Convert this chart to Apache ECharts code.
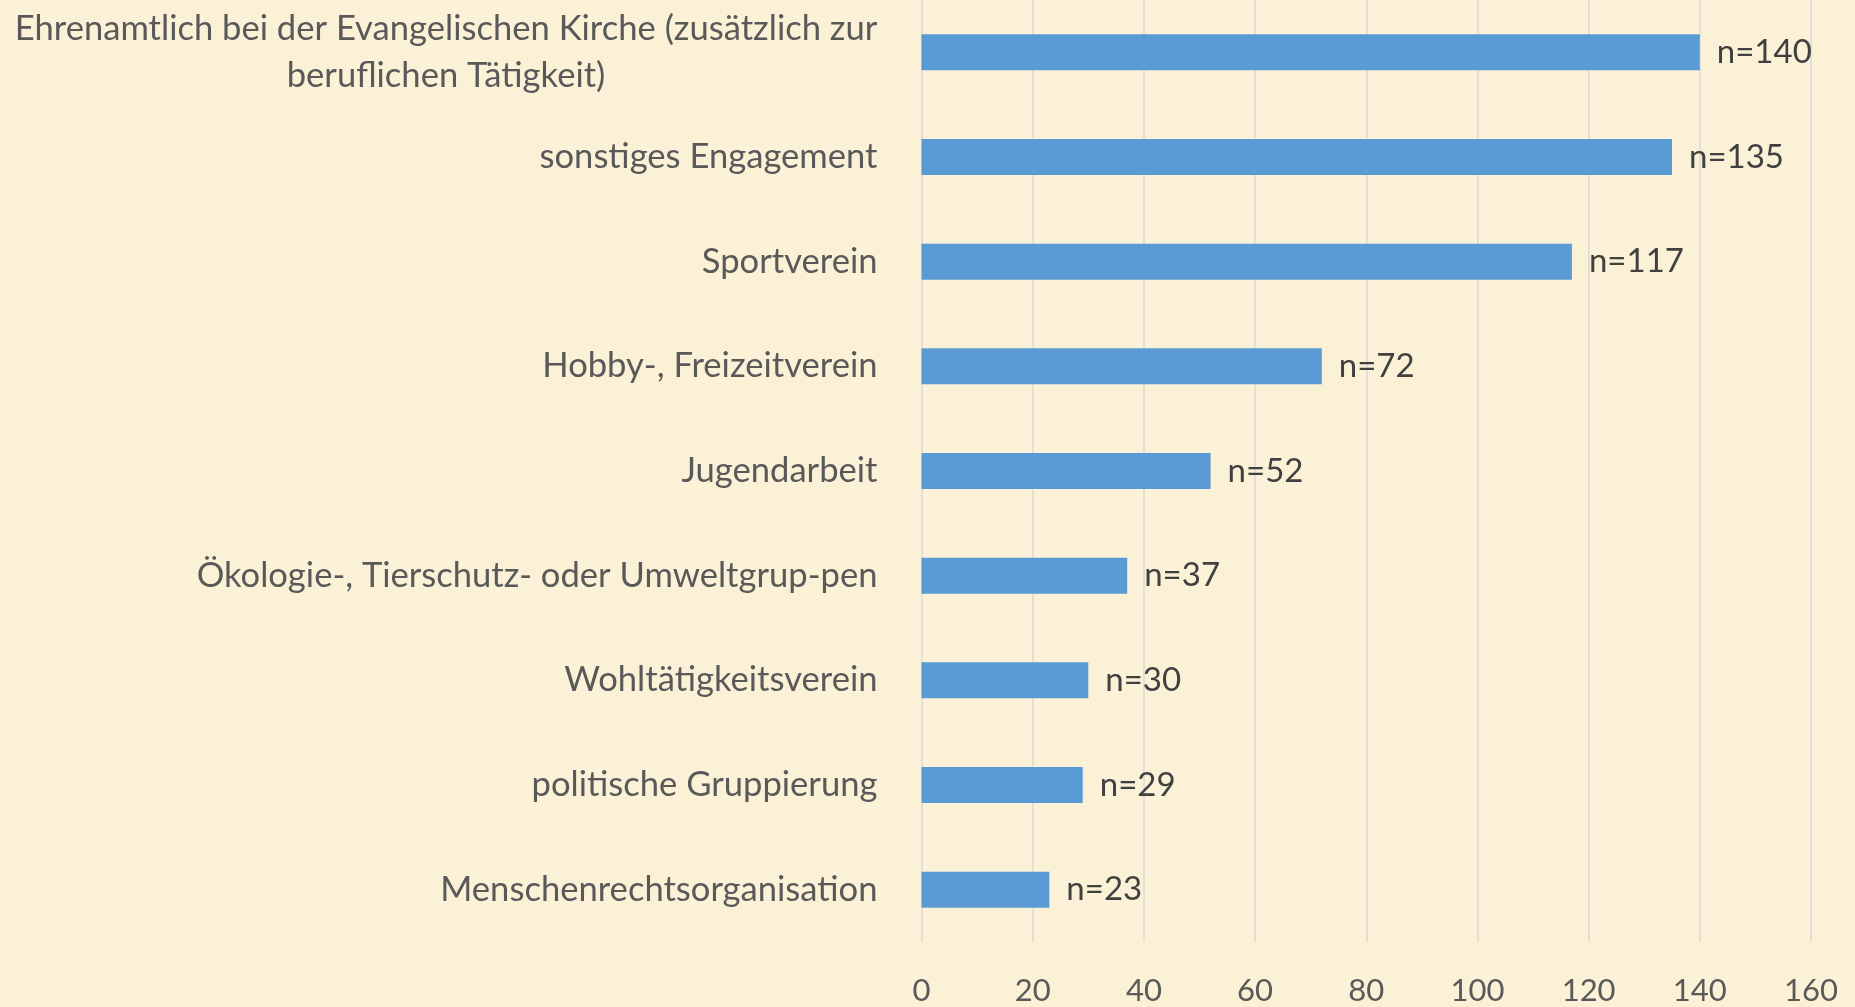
<!DOCTYPE html>
<html><head><meta charset="utf-8">
<script src="https://cdn.jsdelivr.net/npm/echarts@6/dist/echarts.min.js"></script>
<style>html,body{margin:0;padding:0;background:#FAF1D6;}#c{width:1855px;height:1007px;}</style>
</head><body><div id="c"></div>
<script>
const categories = [
  "Ehrenamtlich bei der Evangelischen Kirche (zusätzlich zur\nberuflichen Tätigkeit)",
  "sonstiges Engagement",
  "Sportverein",
  "Hobby-, Freizeitverein",
  "Jugendarbeit",
  "Ökologie-, Tierschutz- oder Umweltgrup-pen",
  "Wohltätigkeitsverein",
  "politische Gruppierung",
  "Menschenrechtsorganisation"
];
const values = [140, 135, 117, 72, 52, 37, 30, 29, 23];
const xTicks = [0, 20, 40, 60, 80, 100, 120, 140, 160];

const FONT = 'Lato';
const CAT_SIZE = 34.6;

function measure(text, size) {
  const ctx = document.createElement('canvas').getContext('2d');
  ctx.font = size + 'px ' + FONT;
  return ctx.measureText(text).width;
}
const multiWidth = Math.ceil(Math.max.apply(null,
  categories[0].split('\n').map(function (s) { return measure(s, CAT_SIZE); })));

const chart = echarts.init(document.getElementById('c'));
chart.setOption({
  backgroundColor: '#FAF1D6',
  animation: false,
  grid: { left: 921.5, right: 44, top: -2, bottom: 65, containLabel: false },
  xAxis: {
    type: 'value', min: xTicks[0], max: xTicks[xTicks.length - 1], interval: 20,
    axisLine: { show: false }, axisTick: { show: false },
    splitLine: { show: true, lineStyle: { color: '#D9D9D9', width: 1.5 } },
    axisLabel: { color: '#595959', fontFamily: FONT, fontSize: 31, margin: 33 }
  },
  yAxis: {
    type: 'category', data: categories, inverse: true,
    axisLine: { show: false }, axisTick: { show: false },
    axisLabel: {
      margin: 44, fontFamily: FONT,
      formatter: function (v) {
        if (v.indexOf('\n') >= 0) {
          return v.split('\n').map(function (s) { return '{c|' + s + '}'; }).join('\n');
        }
        return '{r|' + v + '}';
      },
      rich: {
        c: { width: multiWidth, align: 'center', color: '#595959', fontFamily: FONT, fontSize: CAT_SIZE, lineHeight: 47 },
        r: { color: '#595959', fontFamily: FONT, fontSize: CAT_SIZE }
      }
    }
  },
  series: [{
    type: 'bar', data: values, barWidth: 36,
    itemStyle: { color: '#5B9BD5' },
    label: {
      show: true, position: 'right', distance: 17,
      formatter: function (p) { return 'n=' + p.value; },
      color: '#404040', fontFamily: FONT, fontSize: 33
    }
  }]
});
</script></body></html>
